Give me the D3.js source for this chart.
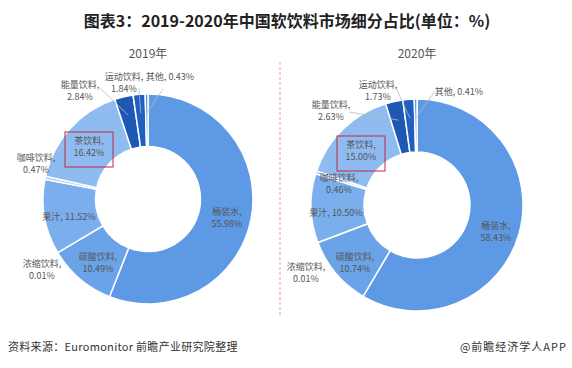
<!DOCTYPE html>
<html>
<head>
<meta charset="utf-8">
<script src="https://cdn.jsdelivr.net/npm/d3@7"></script>
<style>
  body { margin: 0; background: #fff; }
  svg { display: block; font-family: "Microsoft YaHei", "Noto Sans CJK SC", sans-serif; }
</style>
</head>
<body>
<div id="chart"></div>
<script>
// data
const categories = ["桶装水", "碳酸饮料", "浓缩饮料", "果汁", "咖啡饮料", "茶饮料", "能量饮料", "运动饮料", "其他"];
const values2019 = [55.98, 10.49, 0.01, 11.52, 0.47, 16.42, 2.84, 1.84, 0.43];
const values2020 = [58.43, 10.74, 0.01, 10.50, 0.46, 15.00, 2.63, 1.73, 0.41];
const yearLabels = ["2019年", "2020年"];
const sliceColors = ["#5d99e5", "#6ba3e9", "#6ba3e9", "#7aaeec", "#9cc4f3", "#90bbf0", "#1d58b4", "#1f5fc0", "#4f8bd9"];

const W = 572, H = 368;

// label layout, offsets from donut center: [dx, dy, oneLine, leader]
const labelLayout = [
  {
    "桶装水": [79, 13], "碳酸饮料": [-50, 58], "浓缩饮料": [-106, 65], "果汁": [-79, 18, true],
    "咖啡饮料": [-112, -41], "茶饮料": [-59, -58], "能量饮料": [-68, -114, false, [-48, -111]],
    "运动饮料": [-24, -122, false, [-9, -111]], "其他": [22, -122, true, [15, -110]]
  },
  {
    "桶装水": [79, 21], "碳酸饮料": [-62, 52], "浓缩饮料": [-111, 62], "果汁": [-81, 8, true],
    "咖啡饮料": [-78, -27], "茶饮料": [-56, -60], "能量饮料": [-86, -100, false, [-68, -93]],
    "运动饮料": [-39, -120, false, [-21, -117]], "其他": [42, -113, true, [18, -114]]
  }
];

const svg = d3.select("#chart").append("svg")
  .attr("width", W)
  .attr("height", H);

svg.append("text")
  .attr("x", 287)
  .attr("y", 27)
  .attr("text-anchor", "middle")
  .attr("font-size", "16px")
  .attr("font-weight", "bold")
  .attr("fill", "#222")
  .text("图表3：2019-2020年中国软饮料市场细分占比(单位：%)");

// divider
svg.append("line")
  .attr("x1", 280).attr("x2", 280)
  .attr("y1", 62).attr("y2", 317)
  .attr("stroke", "#e8a0ae")
  .attr("stroke-width", 1)
  .attr("stroke-dasharray", "3,2");

const pie = d3.pie().sort(null).value(d => d.value);
const color = d3.scaleOrdinal().domain(categories).range(sliceColors);

const panels = [
  { cx: 148, cy: 199, r: 105, values: values2019, titleY: 58 },
  { cx: 417, cy: 205, r: 106, values: values2020, titleY: 58 }
];

panels.forEach((p, i) => {
  const data = categories.map((c, j) => ({ name: c, value: p.values[j] }));
  const arc = d3.arc().innerRadius(p.r * 0.5).outerRadius(p.r);
  const g = svg.append("g").attr("transform", `translate(${p.cx},${p.cy})`);

  svg.append("text")
    .attr("x", p.cx)
    .attr("y", p.titleY)
    .attr("text-anchor", "middle")
    .attr("font-size", "12px")
    .attr("fill", "#555")
    .text(yearLabels[i]);

  const arcs = pie(data);

  g.selectAll("path.slice")
    .data(arcs)
    .enter()
    .append("path")
    .attr("class", "slice")
    .attr("d", arc)
    .attr("fill", d => color(d.data.name))
    .attr("stroke", "#fff")
    .attr("stroke-width", 1.5);

  const layout = labelLayout[i];

  // leader lines for the small slices at the top
  arcs.forEach(d => {
    const l = layout[d.data.name];
    if (!l[3]) return;
    const mid = (d.startAngle + d.endAngle) / 2;
    const rr = p.r * 0.82;
    g.append("line")
      .attr("x1", l[3][0]).attr("y1", l[3][1])
      .attr("x2", Math.sin(mid) * rr).attr("y2", -Math.cos(mid) * rr)
      .attr("stroke", "#bbb")
      .attr("stroke-width", 0.8);
  });

  arcs.forEach(d => {
    const l = layout[d.data.name];
    const pct = d3.format(".2f")(d.data.value) + "%";
    const t = g.append("text")
      .attr("text-anchor", "middle")
      .attr("font-size", "9px")
      .attr("fill", "#555");
    if (l[2]) {
      t.append("tspan").attr("x", l[0]).attr("y", l[1] + 3).text(`${d.data.name}, ${pct}`);
    } else {
      t.append("tspan").attr("x", l[0]).attr("y", l[1] + 3).text(`${d.data.name},`);
      t.append("tspan").attr("x", l[0]).attr("y", l[1] + 15).text(pct);
    }
  });

  // highlight box round the tea label
  const tea = layout["茶饮料"];
  g.append("rect")
    .attr("x", tea[0] - 24)
    .attr("y", tea[1] - 9)
    .attr("width", 48)
    .attr("height", 35)
    .attr("fill", "none")
    .attr("stroke", "#c0283a")
    .attr("stroke-width", 1);
});

svg.append("text")
  .attr("x", 8)
  .attr("y", 351)
  .attr("font-size", "11px")
  .attr("letter-spacing", "0.3px")
  .attr("fill", "#333")
  .text("资料来源：Euromonitor 前瞻产业研究院整理");

svg.append("text")
  .attr("x", 567)
  .attr("y", 351)
  .attr("text-anchor", "end")
  .attr("font-size", "11px")
  .attr("letter-spacing", "1px")
  .attr("fill", "#333")
  .text("@前瞻经济学人APP");
</script>
</body>
</html>
